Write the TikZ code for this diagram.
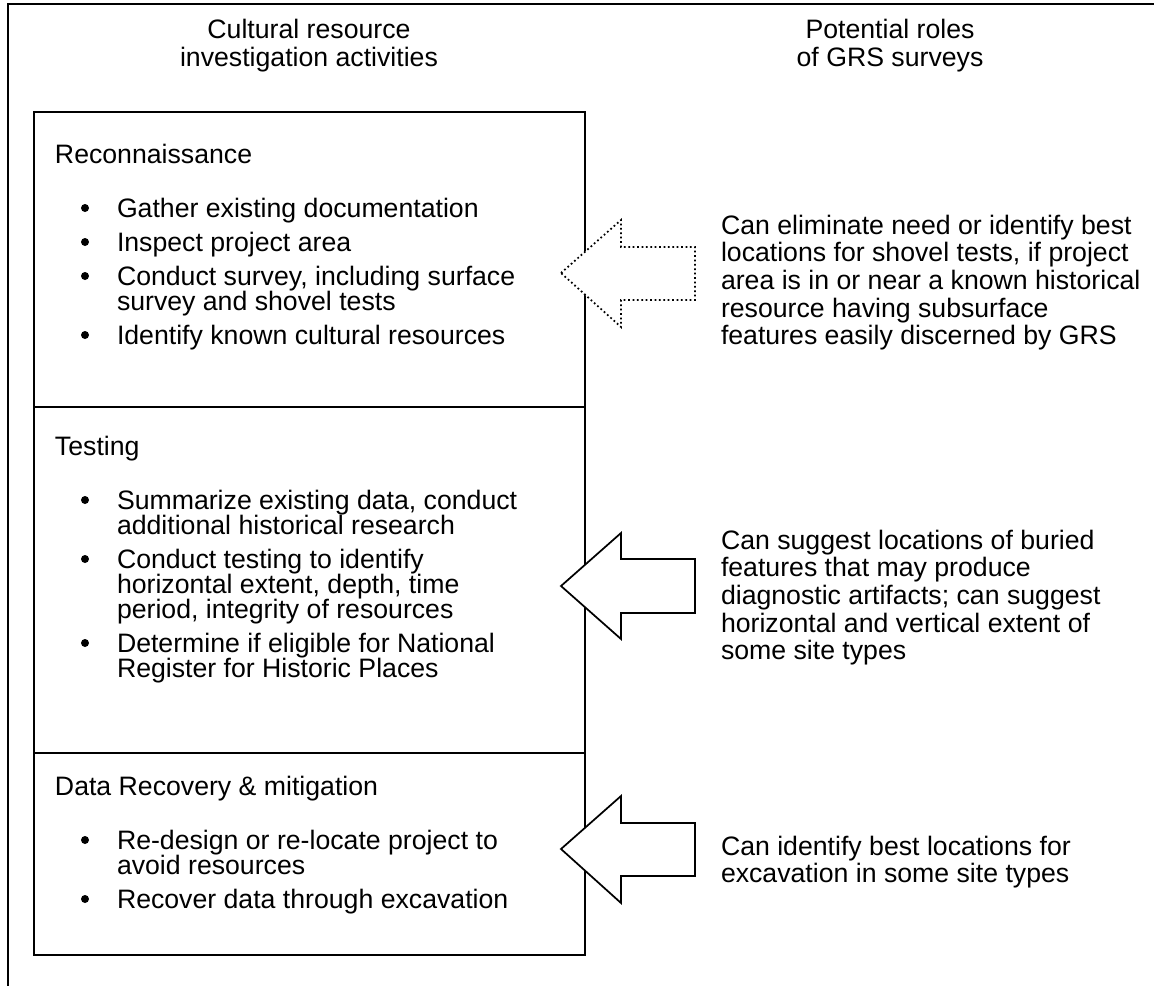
\documentclass[tikz,border=0pt]{standalone}
\usepackage{fontspec}
\setmainfont{Liberation Sans}
\newcommand\mlines[2]{\vtop{\fontsize{20}{#1}\selectfont\lineskiplimit=-100pt\lineskip=0pt\halign{##\hfil\cr#2\crcr}}}
\newcommand\mcent[2]{\vtop{\fontsize{20}{#1}\selectfont\lineskiplimit=-100pt\lineskip=0pt\halign{\hfil##\hfil\cr#2\crcr}}}
\begin{document}
\begin{tikzpicture}[x=0.75pt,y=-0.75pt,
  txt/.style={inner sep=0pt,outer sep=0pt,font=\fontsize{20}{18}\selectfont},
  lbl/.style={txt,anchor=base west},
  hdr/.style={txt,anchor=base},
  bul/.style={circle,fill=black,inner sep=0pt,minimum size=6pt},
  frame/.style={line width=1.5pt},
  arr/.style={draw=black,fill=white,line width=1.3pt,line join=miter},
  darr/.style={arr,dotted,line width=1.3pt}]
\useasboundingbox (0,0) rectangle (1154,986);
% outer frame (top and left)
\draw[frame] (7.5,1000) |- (1160,3.5);
% headers
\node[hdr] (h1) at (309,38) {\mcent{21}{Cultural resource\cr investigation activities}};
\node[hdr] (h2) at (890,38) {\mcent{21}{Potential roles\cr of GRS surveys}};
% box
\draw[frame] (33.5,112) rectangle (585,955);
\draw[frame] (33.5,406.5) -- (585,406.5);
\draw[frame] (33.5,753) -- (585,753);
% Reconnaissance
\node[lbl] (r0) at (55,163) {Reconnaissance};
\node[bul] (rb1) at (85,208) {};
\node[lbl] (r1) at (117,217) {Gather existing documentation};
\node[bul] (rb2) at (85,242) {};
\node[lbl] (r2) at (117,251) {Inspect project area};
\node[bul] (rb3) at (85,276) {};
\node[lbl] (r3) at (117,285) {\mlines{18.75}{Conduct survey, including surface\cr survey and shovel tests}};
\node[bul] (rb4) at (85,335) {};
\node[lbl] (r4) at (117,344) {Identify known cultural resources};
% Testing
\node[lbl] (t0) at (55,455) {Testing};
\node[bul] (tb1) at (85,500) {};
\node[lbl] (t1) at (117,509) {\mlines{18.75}{Summarize existing data, conduct\cr additional historical research}};
\node[bul] (tb2) at (85,559) {};
\node[lbl] (t2) at (117,568) {\mlines{18.75}{Conduct testing to identify\cr horizontal extent, depth, time\cr period, integrity of resources}};
\node[bul] (tb3) at (85,643) {};
\node[lbl] (t3) at (117,652) {\mlines{18.75}{Determine if eligible for National\cr Register for Historic Places}};
% Data recovery
\node[lbl] (d0) at (55,795) {Data Recovery \& mitigation};
\node[bul] (db1) at (85,840) {};
\node[lbl] (d1) at (117,849) {\mlines{18.75}{Re-design or re-locate project to\cr avoid resources}};
\node[bul] (db2) at (85,899) {};
\node[lbl] (d2) at (117,908) {Recover data through excavation};
% arrows
\draw[darr] (561,273) -- (621,220) -- (621,247) -- (695,247) -- (695,300) -- (621,300) -- (621,327) -- cycle;
\draw[arr] (561,586) -- (621,533) -- (621,559) -- (695,559) -- (695,613) -- (621,613) -- (621,639) -- cycle;
\draw[arr] (561,849) -- (621,796) -- (621,823) -- (695,823) -- (695,876) -- (621,876) -- (621,903) -- cycle;
% right texts
\node[lbl] (g1) at (721,234) {\mlines{20.8}{Can eliminate need or identify best\cr locations for shovel tests, if project\cr area is in or near a known historical\cr resource having subsurface\cr features easily discerned by GRS}};
\node[lbl] (g2) at (721,549) {\mlines{20.8}{Can suggest locations of buried\cr features that may produce\cr diagnostic artifacts; can suggest\cr horizontal and vertical extent of\cr some site types}};
\node[lbl] (g3) at (721,855) {\mlines{20.8}{Can identify best locations for\cr excavation in some site types}};
\end{tikzpicture}
\end{document}
